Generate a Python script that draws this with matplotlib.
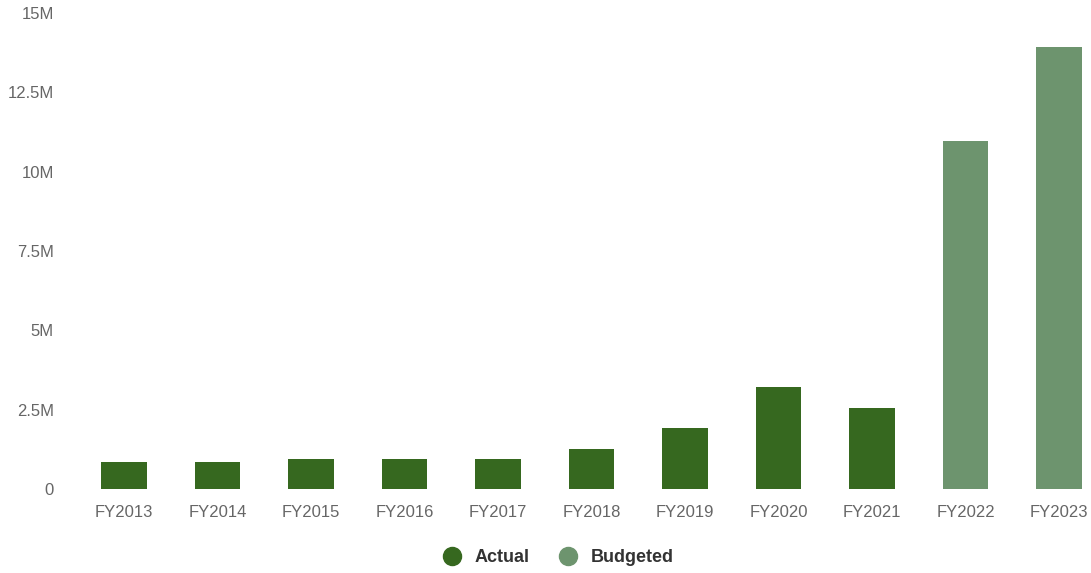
import matplotlib
matplotlib.use("Agg")
import matplotlib.pyplot as plt
from matplotlib.lines import Line2D
from matplotlib.ticker import FuncFormatter, MultipleLocator

plt.rcParams['font.family'] = ['Liberation Sans', 'DejaVu Sans']

# Spending by fiscal year, in millions
actual_years = ["FY2013", "FY2014", "FY2015", "FY2016", "FY2017",
                "FY2018", "FY2019", "FY2020", "FY2021"]
actual_values = [0.85, 0.85, 0.94, 0.94, 0.94, 1.26, 1.92, 3.23, 2.56]

budget_years = ["FY2022", "FY2023"]
budget_values = [10.98, 13.94]

actual_color = "#36681f"
budget_color = "#6d946e"

years = actual_years + budget_years

fig = plt.figure(figsize=(10.91, 5.73), dpi=100)
ax = fig.add_axes([77.25 / 1091, 84 / 573, 1028.5 / 1091, 476 / 573])

x_actual = range(len(actual_years))
x_budget = range(len(actual_years), len(years))
ax.bar(x_actual, actual_values, width=0.49, color=actual_color)
ax.bar(x_budget, budget_values, width=0.49, color=budget_color)

ax.set_xlim(-0.5, len(years) - 0.5)
ax.set_ylim(0, 15)
ax.set_xticks(range(len(years)))
ax.set_xticklabels(years)

def fmt_m(v, pos):
    if v == 0:
        return "0"
    return f"{v:g}M"

ax.yaxis.set_major_locator(MultipleLocator(2.5))
ax.yaxis.set_major_formatter(FuncFormatter(fmt_m))

for s in ax.spines.values():
    s.set_visible(False)
ax.tick_params(axis='both', length=0, labelsize=12, labelcolor="#666666")
ax.tick_params(axis='x', pad=11.5)
ax.tick_params(axis='y', pad=17)

handles = [
    Line2D([], [], marker='o', linestyle='none', markersize=13,
           markerfacecolor=actual_color, markeredgecolor=actual_color, label="Actual"),
    Line2D([], [], marker='o', linestyle='none', markersize=13,
           markerfacecolor=budget_color, markeredgecolor=budget_color, label="Budgeted"),
]
leg = fig.legend(handles=handles, loc='center', bbox_to_anchor=(558.5 / 1091, 1 - 558 / 573),
                 ncol=2, frameon=False, handlelength=1.0, handletextpad=0.75,
                 columnspacing=1.65, prop={'weight': 'bold', 'size': 13})
for t in leg.get_texts():
    t.set_color("#333333")

fig.savefig("out.png", dpi=100)
